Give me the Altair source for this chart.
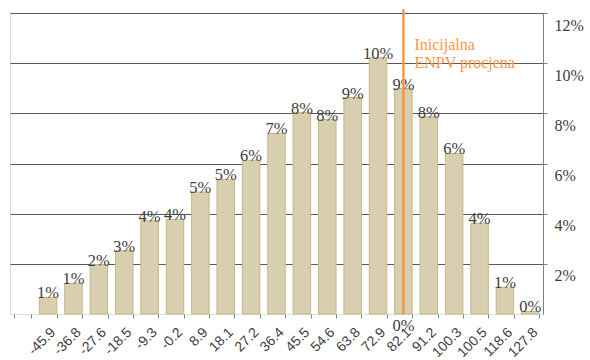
import altair as alt
import pandas as pd

# Simulated ENPV distribution: bin midpoints (first slot is left empty)
bins = ["", "-45.9", "-36.8", "-27.6", "-18.5", "-9.3", "-0.2", "8.9", "18.1",
        "27.2", "36.4", "45.5", "54.6", "63.8", "72.9", "82.1", "91.2",
        "100.3", "100.5", "118.6", "127.8"]
# Share of simulation runs falling into each bin
shares = [0.0066, 0.0123, 0.0197, 0.0253, 0.0372, 0.0378, 0.0486, 0.0537,
          0.0613, 0.0720, 0.0803, 0.0775, 0.0863, 0.1022, 0.0899, 0.0786,
          0.0640, 0.0362, 0.0107, 0.0010]
# Initial ENPV estimate marker
enpv_bin = ["82.1"]
enpv_value = [0.0]
enpv_top = [0.1215]
note_lines = ["Inicijalna", "ENPV procjena"]
note_level = [0.1051]
y_ticks = [0.02, 0.04, 0.06, 0.08, 0.10, 0.12]

dist = pd.DataFrame({"bin": bins[1:], "p": shares})
enpv = pd.DataFrame({"bin": enpv_bin, "v": enpv_value, "top": enpv_top})
note = pd.DataFrame({"bin": enpv_bin, "v": note_level})

SERIF = "Times New Roman, Liberation Serif, serif"
SANS = "Arial, Liberation Sans, sans-serif"
TXT = "#404040"
ORANGE = "#F79646"

xscale = alt.Scale(domain=bins, paddingInner=0.31, paddingOuter=0.155)
yscale = alt.Scale(domain=[0, 0.12], nice=False)

xaxis = alt.Axis(
    title=None, orient="bottom", labelAngle=-45, labelFont=SANS,
    labelFontSize=14, labelColor=TXT, ticks=True, tickSize=4,
    tickColor="#808080", tickBand="extent", domain=False, grid=False,
    labelPadding=7, labelOverlap=False, labelLimit=0,
)
yaxis = alt.Axis(
    title=None, orient="right", values=y_ticks, format=".0%", grid=True,
    gridColor="#595959", gridWidth=1, domain=True, domainColor="#808080",
    ticks=True, tickSize=4, tickColor="#808080", labelFont=SERIF,
    labelFontSize=16, labelColor=TXT, labelBaseline="top", labelPadding=7,
    labelOffset=4,
)

X = alt.X("bin:N", scale=xscale, axis=xaxis, sort=bins)

bars = alt.Chart(dist).mark_bar(
    fill="#D8CFB1", stroke="#C4B886", strokeWidth=1
).encode(x=X, y=alt.Y("p:Q", scale=yscale, axis=yaxis))

bar_labels = alt.Chart(dist).mark_text(
    font=SERIF, fontSize=16.5, color=TXT, baseline="alphabetic", dy=1
).encode(x=X, y=alt.Y("p:Q"), text=alt.Text("p:Q", format=".0%"))

marker = alt.Chart(enpv).mark_rule(color=ORANGE, strokeWidth=2.5).encode(
    x=X, y=alt.Y("v:Q"), y2="top:Q"
)

marker_label = alt.Chart(enpv).mark_text(
    font=SERIF, fontSize=16.5, color=TXT, baseline="top", dy=4
).encode(x=X, y=alt.Y("v:Q"), text=alt.Text("v:Q", format=".0%"))

marker_note = alt.Chart(note).mark_text(
    text=note_lines, font=SERIF, fontSize=16, color=ORANGE, align="left",
    baseline="alphabetic", dx=11, lineHeight=18
).encode(x=X, y=alt.Y("v:Q"))

chart = alt.layer(bars, bar_labels, marker, marker_label, marker_note).properties(
    width=533, height=301,
    autosize=alt.AutoSizeParams(type="none"),
    padding={"left": 10, "top": 13, "right": 47, "bottom": 46},
).configure_view(stroke="#404040", strokeWidth=1).configure(background="white")

chart.save("out.html", embed_options={"renderer": "svg", "actions": False})
